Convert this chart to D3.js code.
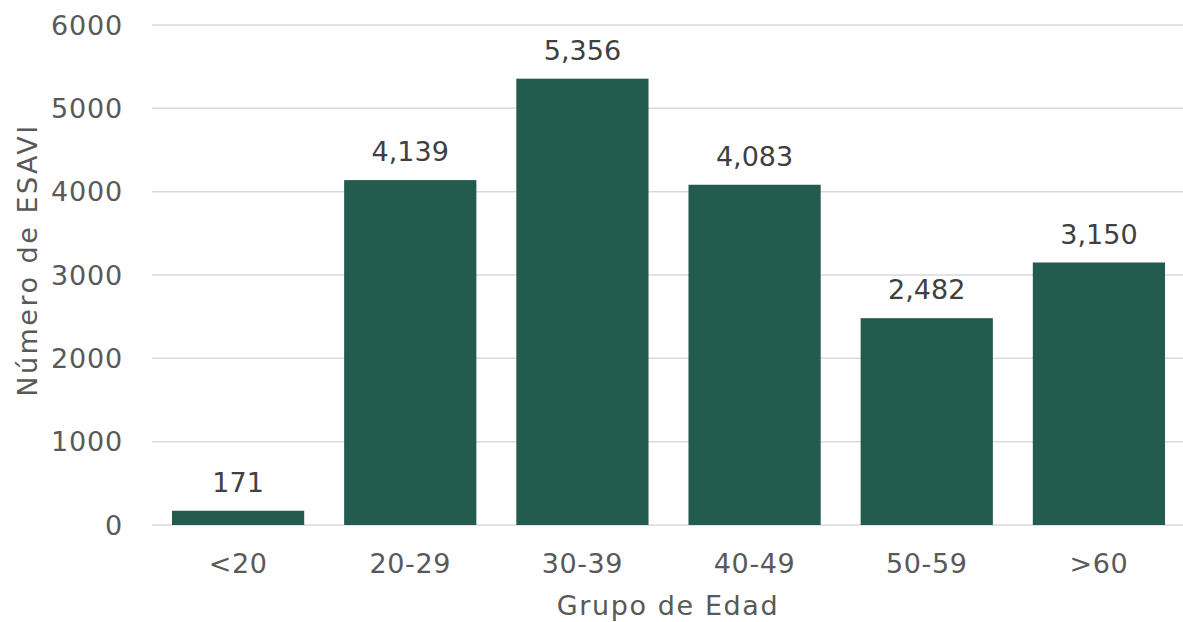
<!DOCTYPE html>
<html>
<head>
<meta charset="utf-8">
<script src="https://cdn.jsdelivr.net/npm/d3@7"></script>
<style>
  body { margin: 0; background: #fff; }
  text { font-family: "DejaVu Sans", sans-serif; }
</style>
</head>
<body>
<div id="chart"></div>
<script>
// data
var groups = ["<20", "20-29", "30-39", "40-49", "50-59", ">60"];
var counts = [171, 4139, 5356, 4083, 2482, 3150];
var yTicks = [0, 1000, 2000, 3000, 4000, 5000, 6000];

var width = 1183, height = 622;
var svg = d3.select("#chart").append("svg")
    .attr("width", width)
    .attr("height", height);

var x = d3.scaleBand()
    .domain(groups)
    .range([152, 1185])
    .paddingInner(0.232)
    .paddingOuter(0.116);

var y = d3.scaleLinear()
    .domain([0, 6000])
    .range([525, 25]);

// gridlines
svg.append("g").selectAll("line")
    .data(yTicks)
    .enter().append("line")
    .attr("x1", 152).attr("x2", 1183)
    .attr("y1", function (d) { return y(d); })
    .attr("y2", function (d) { return y(d); })
    .attr("stroke", "#d9d9d9")
    .attr("stroke-width", 1.5);

// y tick labels
svg.append("g").selectAll("text")
    .data(yTicks)
    .enter().append("text")
    .attr("x", 123)
    .attr("y", function (d) { return y(d); })
    .attr("dy", "0.36em")
    .attr("text-anchor", "end")
    .attr("font-size", 27)
    .attr("letter-spacing", 0.8)
    .attr("fill", "#595959")
    .text(function (d) { return d; });

// bars
svg.append("g").selectAll("rect")
    .data(counts)
    .enter().append("rect")
    .attr("x", function (d, i) { return x(groups[i]); })
    .attr("width", x.bandwidth())
    .attr("y", function (d) { return y(d); })
    .attr("height", function (d) { return y(0) - y(d); })
    .attr("fill", "#245b4f");

// value labels
var fmt = d3.format(",");
svg.append("g").selectAll("text")
    .data(counts)
    .enter().append("text")
    .attr("x", function (d, i) { return x(groups[i]) + x.bandwidth() / 2; })
    .attr("y", function (d) { return y(d) - 19; })
    .attr("text-anchor", "middle")
    .attr("font-size", 27)
    .attr("fill", "#404040")
    .text(function (d) { return fmt(d); });

// x tick labels
svg.append("g").selectAll("text")
    .data(groups)
    .enter().append("text")
    .attr("x", function (d) { return x(d) + x.bandwidth() / 2; })
    .attr("y", 573)
    .attr("text-anchor", "middle")
    .attr("font-size", 27)
    .attr("letter-spacing", 0.6)
    .attr("fill", "#595959")
    .text(function (d) { return d; });

// axis titles
svg.append("text")
    .attr("x", 668)
    .attr("y", 615)
    .attr("text-anchor", "middle")
    .attr("font-size", 27)
    .attr("letter-spacing", 1.6)
    .attr("fill", "#595959")
    .text("Grupo de Edad");

svg.append("text")
    .attr("transform", "translate(37,260) rotate(-90)")
    .attr("text-anchor", "middle")
    .attr("font-size", 27)
    .attr("letter-spacing", 2.5)
    .attr("fill", "#595959")
    .text("Número de ESAVI");
</script>
</body>
</html>
